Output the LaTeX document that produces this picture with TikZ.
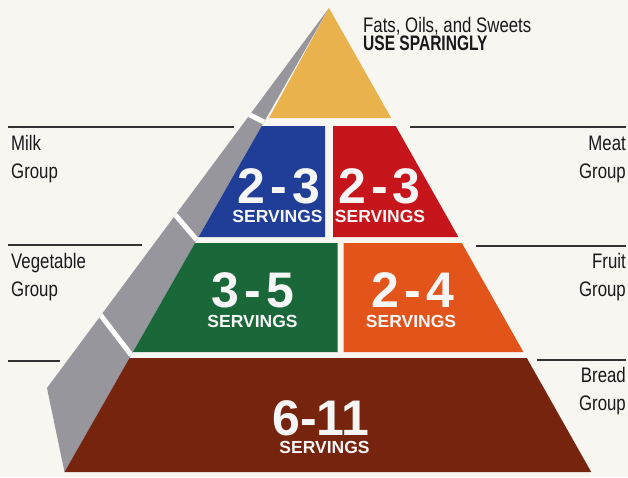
\documentclass[tikz,border=0pt]{standalone}
\usepackage{fontspec}
\setmainfont{Liberation Sans}
\newfontfamily\condfont[FakeStretch=0.8]{Liberation Sans}
\newfontfamily\condbold[FakeStretch=0.74]{Liberation Sans}
\definecolor{bg}{RGB}{248,246,241}
\definecolor{fatyellow}{RGB}{233,178,76}
\definecolor{milkblue}{RGB}{32,62,152}
\definecolor{meatred}{RGB}{198,22,28}
\definecolor{veggreen}{RGB}{26,104,58}
\definecolor{fruitorange}{RGB}{226,84,26}
\definecolor{breadbrown}{RGB}{118,36,14}
\definecolor{sidegray}{RGB}{150,150,156}
\definecolor{rulegray}{RGB}{50,50,50}
\definecolor{labeltext}{RGB}{25,25,25}
\definecolor{numwhite}{RGB}{246,246,246}
\tikzset{
  lbl/.style={font=\condfont\fontsize{21}{24}\selectfont, text=labeltext, inner sep=0},
  num/.style={font=\bfseries\fontsize{50}{50}\selectfont, text=numwhite, inner sep=0, anchor=base, text depth=0pt},
  serv/.style={font=\bfseries\fontsize{17.5}{18}\selectfont, text=numwhite, inner sep=0, anchor=base, text height=12.6pt},
  rule/.style={draw=rulegray, line width=1.2pt},
  gap/.style={draw=white, line width=5pt}
}
\begin{document}
\begin{tikzpicture}[x=1pt,y=-1pt]
\fill[bg] (0,0) rectangle (628,477);
\useasboundingbox (0,0) rectangle (628,477);

% side face
\coordinate (apex) at (329,8);
\coordinate (outer) at (47,388);
\coordinate (base) at (64.5,472);
\fill[sidegray] (apex) -- (outer) -- (base) -- cycle;
\begin{scope}
  \clip (apex) -- (outer) -- (base) -- cycle;
  \draw[gap] (264,122) -- (236,108);
  \draw[gap] (196.8,240) -- (160,197);
  \draw[gap] (131.2,355) -- (86,296);
\end{scope}

% front tiers
\fill[fatyellow] (apex) -- (269,118) -- (391.2,118) -- cycle;
\fill[milkblue] (261.7,126) -- (325,126) -- (325,237) -- (198.5,237) -- cycle;
\fill[meatred] (333,126) -- (395.7,126) -- (458.4,237) -- (333,237) -- cycle;
\fill[veggreen] (195,243) -- (337.5,243) -- (337.5,352) -- (132.9,352) -- cycle;
\fill[fruitorange] (343.5,243) -- (461.8,243) -- (523.4,352) -- (343.5,352) -- cycle;
\fill[breadbrown] (129.5,358) -- (526.8,358) -- (591.2,472) -- (base) -- cycle;

% numbers
\node[num] (n1) at (279,203) {2\kern5pt-\kern5pt3};
\node[serv] (s1) at (277.5,222) {SERVINGS};
\node[num] (n2) at (379.5,203) {2\kern5pt-\kern5pt3};
\node[serv] (s2) at (380,222) {SERVINGS};
\node[num] (n3) at (253,307) {3\kern5pt-\kern5pt5};
\node[serv] (s3) at (252.5,327) {SERVINGS};
\node[num] (n4) at (413,307) {2\kern5pt-\kern5pt4};
\node[serv] (s4) at (411,327) {SERVINGS};
\node[num] (n5) at (321,435) {6-11};
\node[serv] (s5) at (324.5,453) {SERVINGS};

% rules
\coordinate (r1a) at (8,127);   \coordinate (r1b) at (234,127);
\coordinate (r2a) at (410,127); \coordinate (r2b) at (626,127);
\coordinate (r3a) at (8,245);   \coordinate (r3b) at (142,245);
\coordinate (r4a) at (476,246); \coordinate (r4b) at (626,246);
\coordinate (r5a) at (8,361);   \coordinate (r5b) at (60,361);
\coordinate (r6a) at (537,360); \coordinate (r6b) at (626,360);
\draw[rule] (r1a) -- (r1b);
\draw[rule] (r2a) -- (r2b);
\draw[rule] (r3a) -- (r3b);
\draw[rule] (r4a) -- (r4b);
\draw[rule] (r5a) -- (r5b);
\draw[rule] (r6a) -- (r6b);

% labels
\node[lbl, anchor=base west] (fats) at (363,32) {Fats, Oils, and Sweets};
\node[lbl, anchor=base west, font=\condbold\bfseries\fontsize{21}{24}\selectfont] (spar) at (363,50) {USE SPARINGLY};
\node[lbl, anchor=base west] (milk) at (11,150) {Milk};
\node[lbl, anchor=base west] (milkg) at (11,178) {Group};
\node[lbl, anchor=base east] (meat) at (626,150) {Meat};
\node[lbl, anchor=base east] (meatg) at (626,178) {Group};
\node[lbl, anchor=base west] (veg) at (11,268) {Vegetable};
\node[lbl, anchor=base west] (vegg) at (11,296) {Group};
\node[lbl, anchor=base east] (fruit) at (626,268) {Fruit};
\node[lbl, anchor=base east] (fruitg) at (626,296) {Group};
\node[lbl, anchor=base east] (bread) at (626,382) {Bread};
\node[lbl, anchor=base east] (breadg) at (626,410) {Group};
\end{tikzpicture}
\end{document}
